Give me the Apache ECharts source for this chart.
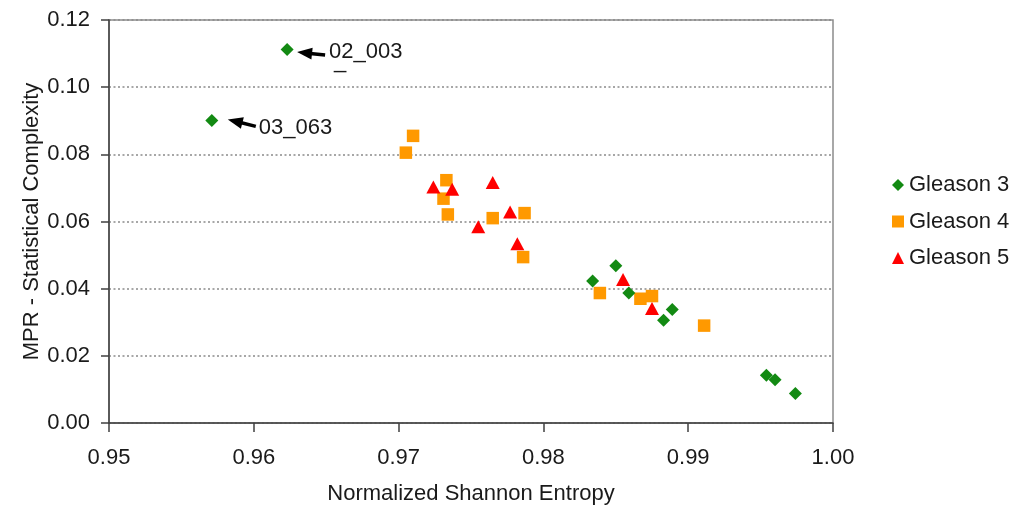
<!DOCTYPE html>
<html>
<head>
<meta charset="utf-8">
<script src="https://cdn.jsdelivr.net/npm/echarts@6/dist/echarts.min.js"></script>
<style>
  html, body { margin: 0; padding: 0; background: #ffffff; }
  #chart { width: 1014px; height: 507px; }
</style>
</head>
<body>
<div id="chart"></div>
<script>
// Normalized Shannon entropy (x) and MPR statistical complexity (y) per sample
const gleason3X = [0.9623, 0.9571, 0.9834, 0.9850, 0.9859, 0.9883, 0.9889, 0.9954, 0.9960, 0.9974];
const gleason3Y = [0.1112, 0.0901, 0.0423, 0.0468, 0.0387, 0.0306, 0.0338, 0.0142, 0.0129, 0.0088];

const gleason4X = [0.9710, 0.9705, 0.9733, 0.9731, 0.9734, 0.9765, 0.9787, 0.9786, 0.9839, 0.9867, 0.9875, 0.9911];
const gleason4Y = [0.0855, 0.0805, 0.0723, 0.0668, 0.0621, 0.0610, 0.0625, 0.0494, 0.0387, 0.0370, 0.0378, 0.0290];

const gleason5X = [0.9724, 0.9737, 0.9765, 0.9755, 0.9777, 0.9782, 0.9855, 0.9875];
const gleason5Y = [0.0703, 0.0696, 0.0716, 0.0584, 0.0628, 0.0534, 0.0427, 0.0341];

const seriesNames = ['Gleason 3', 'Gleason 4', 'Gleason 5'];

// Tick values of both axes
const xTicks = [0.95, 0.96, 0.97, 0.98, 0.99, 1.00];
const yTicks = [0.00, 0.02, 0.04, 0.06, 0.08, 0.10, 0.12];

// Labelled outliers: text and index into the Gleason 3 points
const calloutTexts = ['02_003', '03_063'];
const calloutPoints = [0, 1];

// Pixel offsets (from the marked point) of each callout's arrow and text
const calloutStyle = [
  { tip: [10, 2.5], tail: [38, 5.5], text: [42, 2], extra: '_' },
  { tip: [16, -1], tail: [44, 6], text: [47, 8], extra: '' }
];

const FONT = '"Liberation Sans", Arial, sans-serif';
const TEXT = '#1a1a1a';

function zip(xs, ys) { return xs.map((x, i) => [x, ys[i]]); }

const chart = echarts.init(document.getElementById('chart'), null, { renderer: 'canvas' });

const option = {
  backgroundColor: '#ffffff',
  animation: false,
  grid: {
    left: 109, right: 181, top: 20, bottom: 84,
    containLabel: false,
    outerBoundsMode: 'none',
    show: true,
    borderColor: '#8c8c8c',
    borderWidth: 1.5,
    backgroundColor: 'transparent'
  },
  legend: {
    orient: 'vertical',
    left: 887,
    top: 169,
    itemWidth: 12,
    itemHeight: 12,
    itemGap: 14.5,
    itemTextGap: 9,
    textStyle: { fontFamily: FONT, fontSize: 22, color: TEXT },
    data: [
      { name: seriesNames[0], icon: 'diamond' },
      { name: seriesNames[1], icon: 'rect' },
      { name: seriesNames[2], icon: 'triangle' }
    ]
  },
  xAxis: {
    type: 'value',
    min: xTicks[0],
    max: xTicks[xTicks.length - 1],
    interval: 0.01,
    name: 'Normalized Shannon Entropy',
    nameLocation: 'middle',
    nameGap: 60,
    nameMoveOverlap: false,
    nameTextStyle: { fontFamily: FONT, fontSize: 22, color: TEXT },
    axisLine: { show: true, onZero: false, lineStyle: { color: '#404040', width: 1.5 } },
    axisTick: { show: true, inside: false, length: 9, lineStyle: { color: '#404040', width: 1.5 } },
    axisLabel: {
      margin: 24,
      fontFamily: FONT, fontSize: 22, color: TEXT,
      formatter: v => v.toFixed(2)
    },
    splitLine: { show: false }
  },
  yAxis: {
    type: 'value',
    min: yTicks[0],
    max: yTicks[yTicks.length - 1],
    interval: 0.02,
    name: 'MPR - Statistical Complexity',
    nameLocation: 'middle',
    nameGap: 66,
    nameMoveOverlap: false,
    nameTextStyle: { fontFamily: FONT, fontSize: 22, color: TEXT },
    axisLine: { show: true, onZero: false, lineStyle: { color: '#404040', width: 1.5 } },
    axisTick: { show: true, inside: false, length: 8, lineStyle: { color: '#404040', width: 1.5 } },
    axisLabel: {
      margin: 19,
      fontFamily: FONT, fontSize: 22, color: TEXT,
      formatter: v => v.toFixed(2)
    },
    splitLine: { show: true, lineStyle: { color: '#8a8a8a', type: [2, 2.5], width: 1.6 } }
  },
  series: [
    {
      name: seriesNames[0], type: 'scatter', symbol: 'diamond', symbolSize: 13,
      itemStyle: { color: '#138a13', opacity: 1 },
      data: zip(gleason3X, gleason3Y), z: 3
    },
    {
      name: seriesNames[1], type: 'scatter', symbol: 'rect', symbolSize: 12.5,
      itemStyle: { color: '#ff9900', opacity: 1 },
      data: zip(gleason4X, gleason4Y), z: 2
    },
    {
      name: seriesNames[2], type: 'scatter', symbol: 'triangle', symbolSize: [14, 13],
      itemStyle: { color: '#ff0000', opacity: 1 },
      data: zip(gleason5X, gleason5Y), z: 4
    }
  ]
};

chart.setOption(option);

// Arrows and labels pointing at the two outlying samples
function drawCallouts() {
  const elements = [];
  calloutTexts.forEach((label, i) => {
    const k = calloutPoints[i];
    const p = chart.convertToPixel({ seriesIndex: 0 }, [gleason3X[k], gleason3Y[k]]);
    const s = calloutStyle[i];
    const tip = [p[0] + s.tip[0], p[1] + s.tip[1]];
    const tail = [p[0] + s.tail[0], p[1] + s.tail[1]];
    const dx = tip[0] - tail[0], dy = tip[1] - tail[1];
    const len = Math.sqrt(dx * dx + dy * dy);
    const ux = dx / len, uy = dy / len;
    const headLen = 15, headHalf = 6;
    const base = [tip[0] - ux * headLen, tip[1] - uy * headLen];
    const left = [base[0] - uy * headHalf, base[1] + ux * headHalf];
    const right = [base[0] + uy * headHalf, base[1] - ux * headHalf];
    elements.push({
      type: 'line',
      shape: { x1: tail[0], y1: tail[1], x2: base[0] + ux * 2, y2: base[1] + uy * 2 },
      style: { stroke: '#000000', lineWidth: 3.5 },
      z: 10
    });
    elements.push({
      type: 'polygon',
      shape: { points: [tip, left, right] },
      style: { fill: '#000000' },
      z: 10
    });
    elements.push({
      type: 'text',
      x: p[0] + s.text[0],
      y: p[1] + s.text[1],
      style: {
        text: label,
        fontFamily: FONT, fontSize: 22, fill: TEXT,
        align: 'left', verticalAlign: 'middle'
      },
      z: 10
    });
    if (s.extra) {
      elements.push({
        type: 'text',
        x: p[0] + s.text[0] + 5,
        y: p[1] + s.text[1] + 10,
        style: {
          text: s.extra,
          fontFamily: FONT, fontSize: 22, fill: TEXT,
          align: 'left', verticalAlign: 'middle'
        },
        z: 10
      });
    }
  });
  chart.setOption({ graphic: { elements: elements } });
}

drawCallouts();
</script>
</body>
</html>
